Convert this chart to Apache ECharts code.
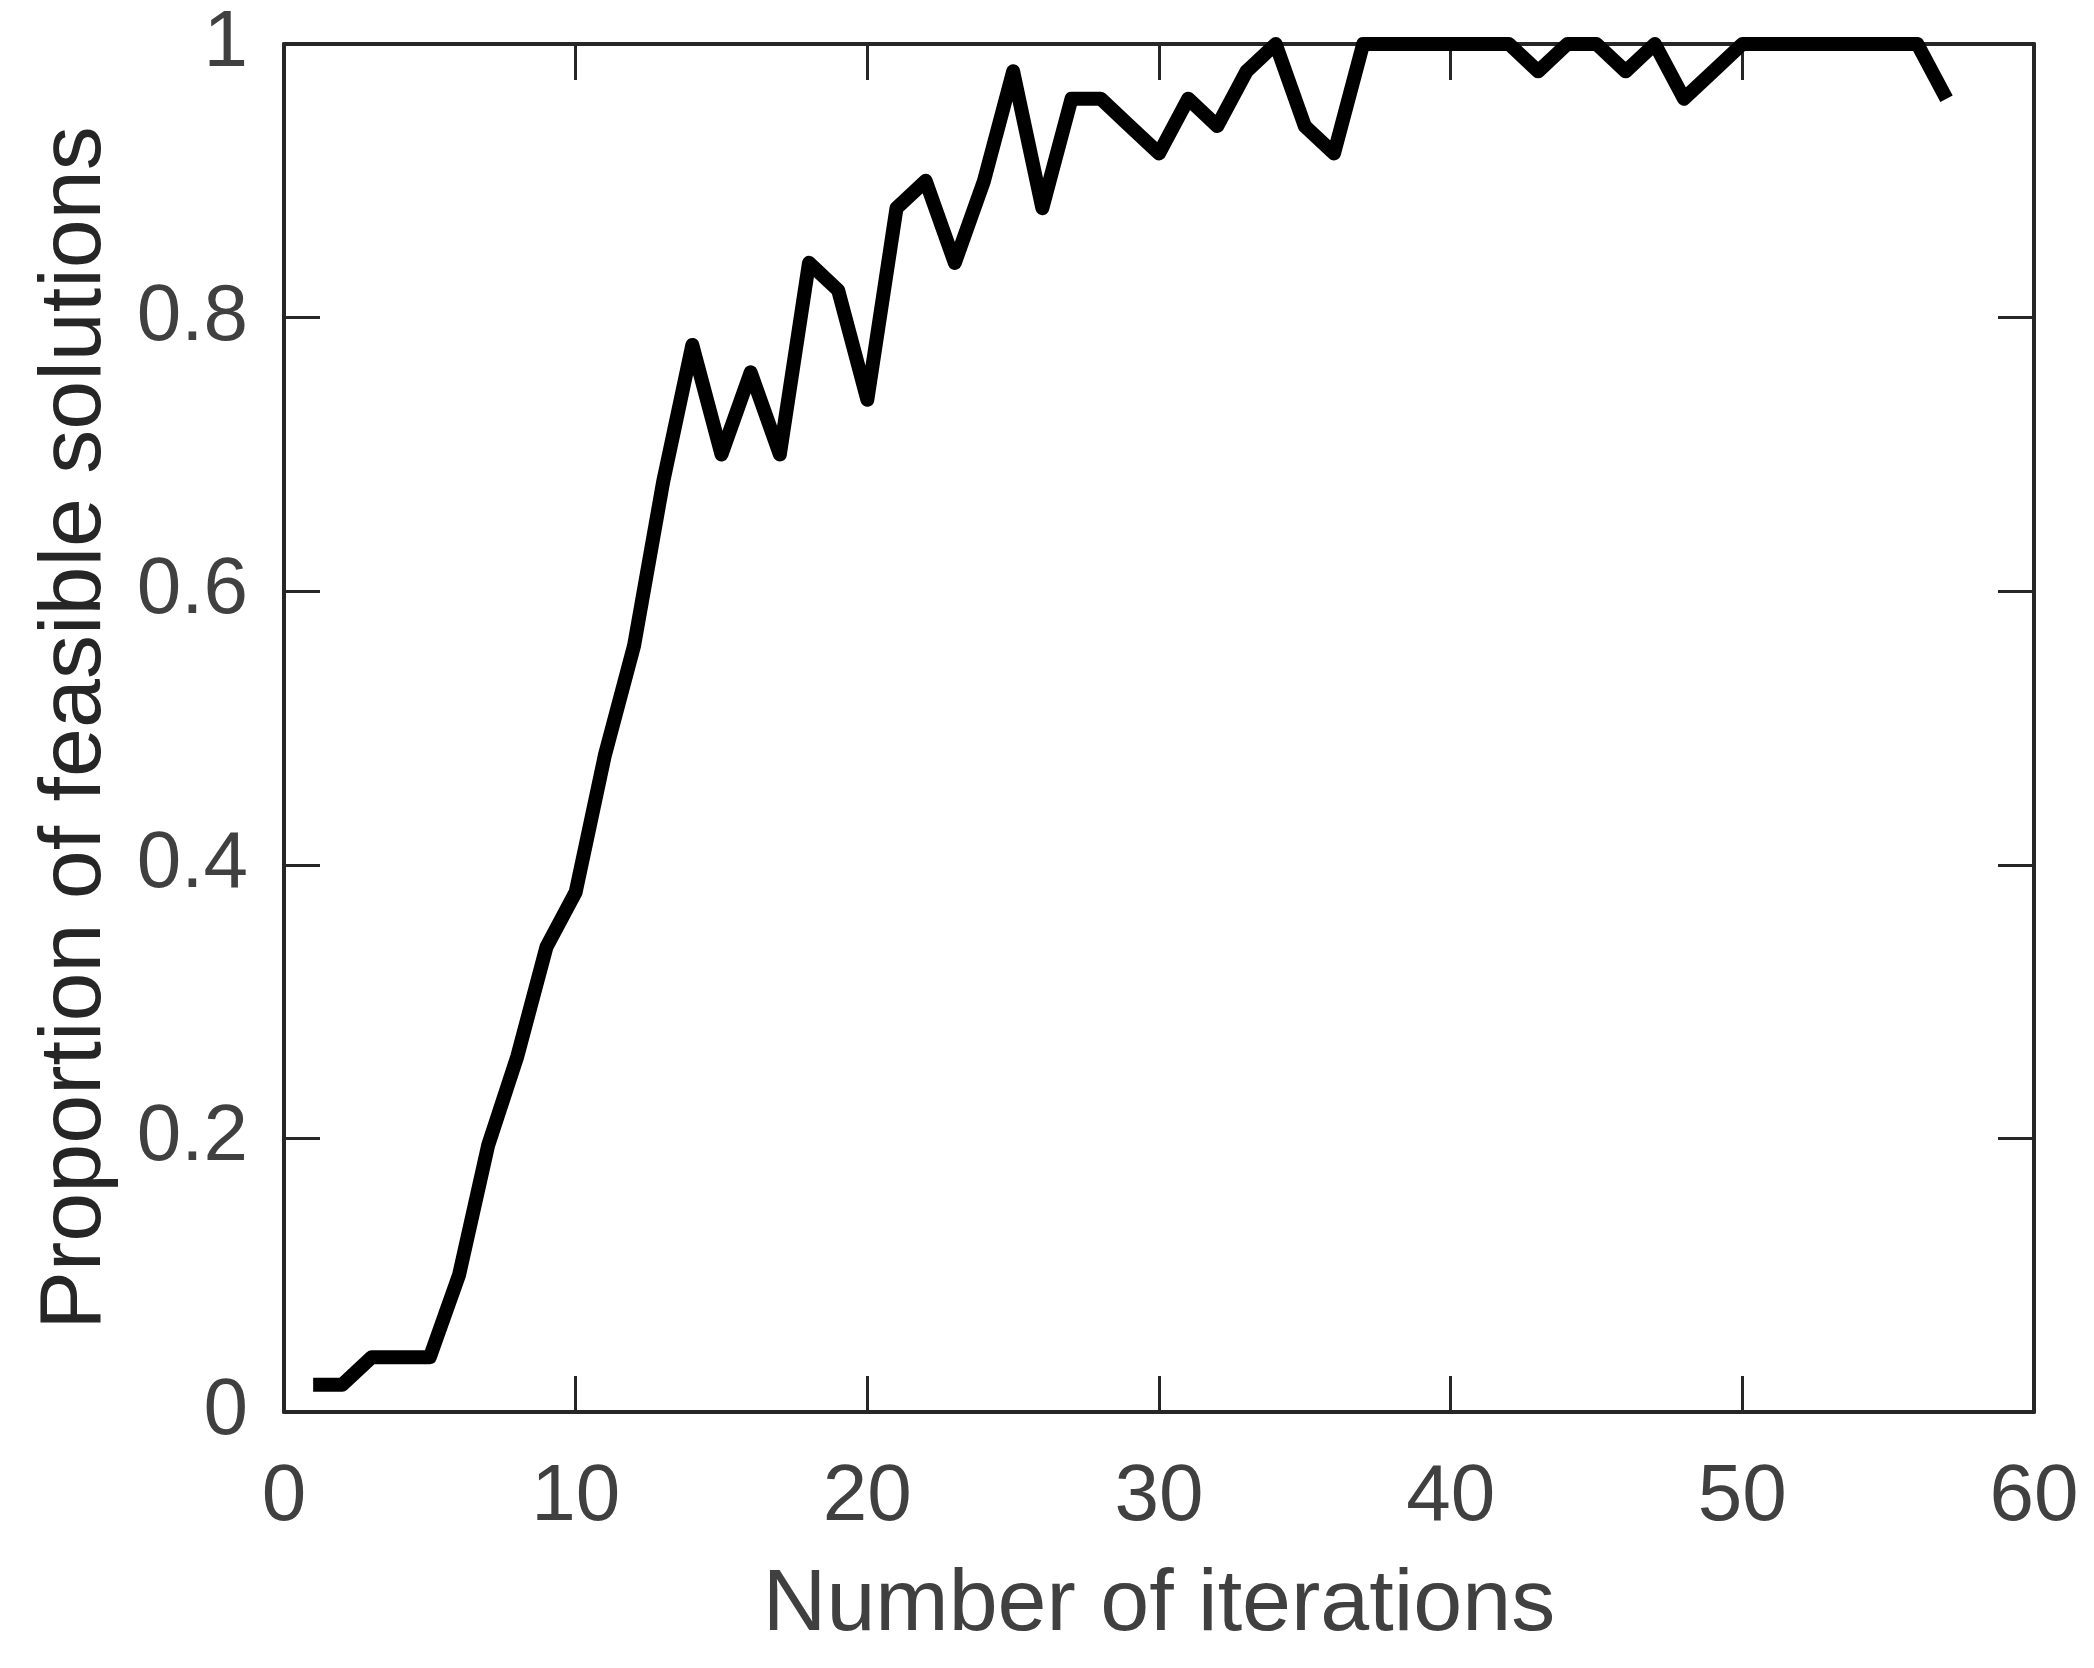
<!DOCTYPE html>
<html>
<head>
<meta charset="utf-8">
<script src="https://cdn.jsdelivr.net/npm/echarts@6/dist/echarts.min.js"></script>
<style>
    html, body { margin: 0; padding: 0; background: #fff; }
    #chart { width: 2094px; height: 1668px; }
</style>
</head>
<body>
<div id="chart"></div>
<script>
const iterations = [
    1, 2, 3, 4, 5, 6, 7, 8, 9, 10,
    11, 12, 13, 14, 15, 16, 17, 18, 19, 20,
    21, 22, 23, 24, 25, 26, 27, 28, 29, 30,
    31, 32, 33, 34, 35, 36, 37, 38, 39, 40,
    41, 42, 43, 44, 45, 46, 47, 48, 49, 50,
    51, 52, 53, 54, 55, 56, 57,
];
const feasibleShare = [
    0.02, 0.02, 0.04, 0.04, 0.04, 0.10, 0.195, 0.26, 0.34, 0.38,
    0.48, 0.56, 0.68, 0.78, 0.70, 0.76, 0.70, 0.84, 0.82, 0.74,
    0.88, 0.90, 0.84, 0.90, 0.98, 0.88, 0.96, 0.96, 0.94, 0.92,
    0.96, 0.94, 0.98, 1.00, 0.94, 0.92, 1.00, 1.00, 1.00, 1.00,
    1.00, 1.00, 0.98, 1.00, 1.00, 0.98, 1.00, 0.96, 0.98, 1.00,
    1.00, 1.00, 1.00, 1.00, 1.00, 1.00, 0.96,
];

const FONT = 'Arial, "Liberation Sans", Helvetica, sans-serif';
const AXIS_COLOR = '#262626';
const LABEL_COLOR = '#404040';

const frameAxis = {
    axisLine: { show: true, onZero: false, lineStyle: { color: AXIS_COLOR, width: 4 } },
    axisTick: { show: true, inside: true, length: 36, lineStyle: { color: AXIS_COLOR, width: 3 } },
    splitLine: { show: false },
};

const chart = echarts.init(document.getElementById('chart'), null, { renderer: 'canvas' });

chart.setOption({
    animation: false,
    backgroundColor: '#ffffff',
    textStyle: { fontFamily: FONT },
    grid: { left: 284, right: 60, top: 44, bottom: 256 },
    xAxis: [
        {
            type: 'value',
            min: 0,
            max: 60,
            interval: 10,
            position: 'bottom',
            name: 'Number of iterations',
            nameLocation: 'middle',
            nameGap: 150,
            nameTextStyle: { fontSize: 88, color: LABEL_COLOR, fontFamily: FONT },
            axisLabel: { fontSize: 80, color: LABEL_COLOR, margin: 46, fontFamily: FONT },
            ...frameAxis,
        },
        {
            type: 'value',
            min: 0,
            max: 60,
            interval: 10,
            position: 'top',
            axisLabel: { show: false },
            ...frameAxis,
        },
    ],
    yAxis: [
        {
            type: 'value',
            min: 0,
            max: 1,
            interval: 0.2,
            position: 'left',
            name: 'Proportion of feasible solutions',
            nameLocation: 'middle',
            nameRotate: 90,
            nameGap: 164,
            nameTextStyle: { fontSize: 88, color: AXIS_COLOR, fontFamily: FONT },
            axisLabel: { fontSize: 80, color: LABEL_COLOR, margin: 36, fontFamily: FONT },
            ...frameAxis,
        },
        {
            type: 'value',
            min: 0,
            max: 1,
            interval: 0.2,
            position: 'right',
            axisLabel: { show: false },
            ...frameAxis,
        },
    ],
    series: [
        {
            type: 'line',
            xAxisIndex: 0,
            yAxisIndex: 0,
            data: iterations.map((x, i) => [x, feasibleShare[i]]),
            showSymbol: false,
            clip: false,
            lineStyle: { color: '#000000', width: 14, cap: 'butt', join: 'round' },
            z: 5,
        },
    ],
});

window.addEventListener('resize', () => chart.resize());
</script>
</body>
</html>
